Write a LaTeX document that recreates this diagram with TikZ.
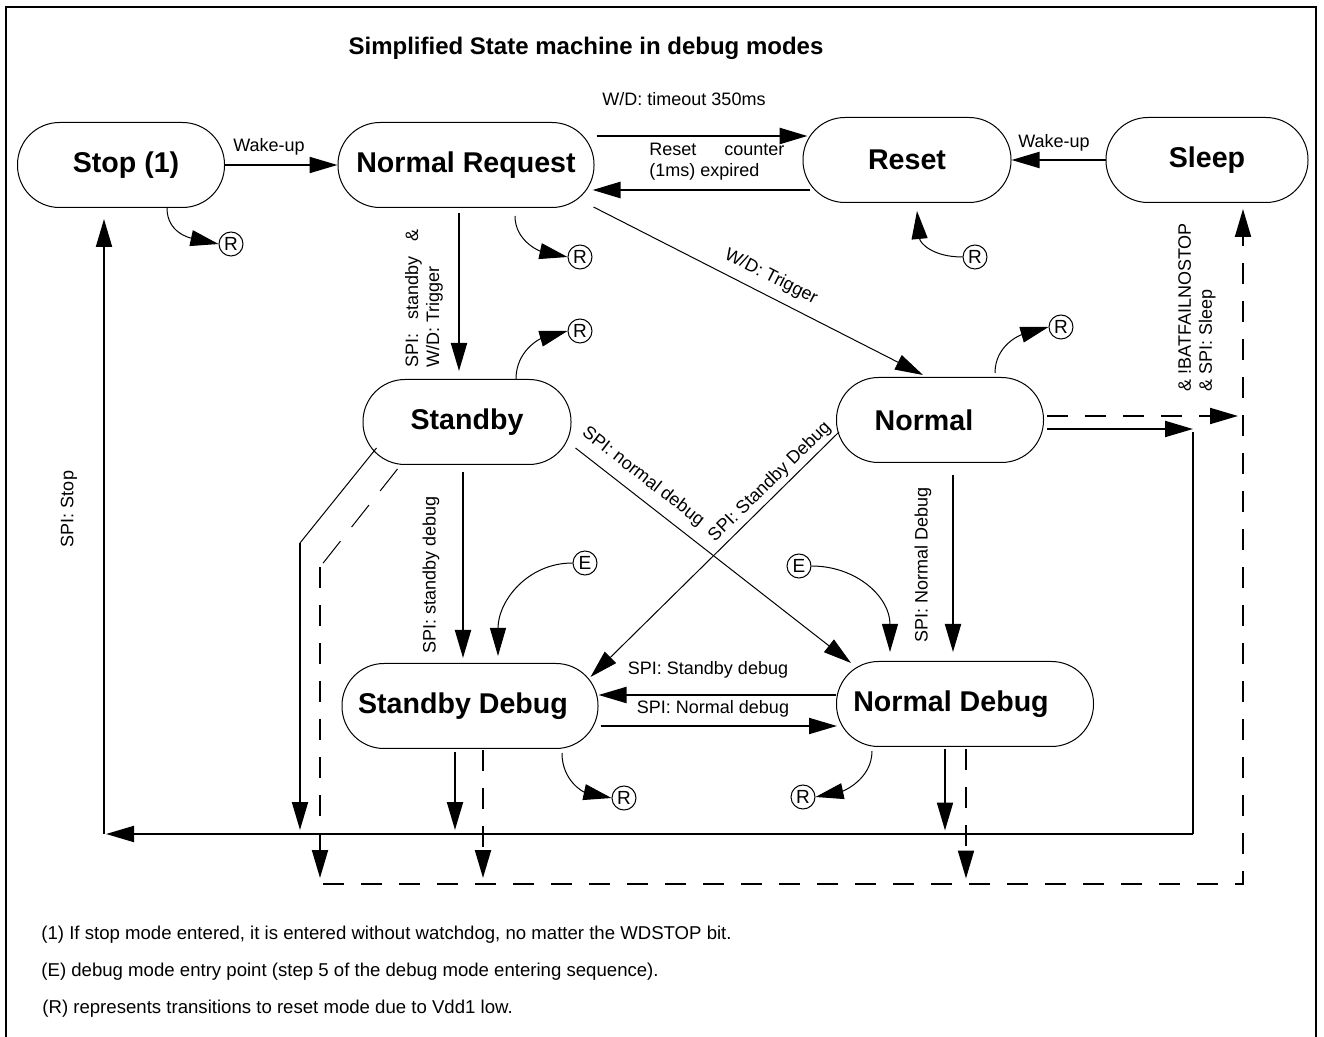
\documentclass[tikz,border=0pt]{standalone}
\usepackage{fontspec}
\setmainfont{Liberation Sans}
\usetikzlibrary{arrows.meta,calc}

\begin{document}
\begin{tikzpicture}[x=0.5pt,y=-0.5pt,>={Triangle[length=14pt,width=8pt]},
  modebox/.style={draw,line width=0.5pt,rounded corners=21pt,minimum height=42.5pt,inner sep=0pt,font=\bfseries\fontsize{14.3}{17}\selectfont},
  tag/.style={draw,circle,line width=0.5pt,minimum size=12pt,inner sep=0pt,font=\fontsize{9.5}{10}\selectfont},
  lbl/.style={inner sep=0pt,font=\fontsize{9}{10.5}\selectfont},
  note/.style={inner sep=0pt,anchor=west,font=\fontsize{9.3}{11}\selectfont},
  wire/.style={line width=1pt},
  heavy/.style={line width=1.3pt},
  link/.style={line width=0.5pt},
  dashln/.style={line width=1pt,dash pattern=on 10.5pt off 8.5pt}]
\useasboundingbox (0,0) rectangle (1324,1037);
\draw[line width=1pt] (6,1037) -- (6,7) -- (1316,7) -- (1316,1037);

\node[font=\bfseries\fontsize{12}{14}\selectfont] (title) at (586,48) {Simplified State machine in debug modes};

\node[modebox,minimum width=103.5pt] (stop) at (121,165) {\hspace*{5pt}Stop (1)};
\node[modebox,minimum width=128pt] (nreq) at (466,165) {Normal Request};
\node[modebox,minimum width=104pt] (reset) at (907,160) {Reset};
\node[modebox,minimum width=101pt] (sleep) at (1207,160) {Sleep};
\node[modebox,minimum width=104pt] (standby) at (467,422) {Standby};
\node[modebox,minimum width=103.5pt] (normal) at (940,420) {Normal\hspace*{16pt}};
\node[modebox,minimum width=128pt] (sbdebug) at (470,706) {Standby Debug\hspace*{7pt}};
\node[modebox,minimum width=128.5pt] (ndebug) at (965,704) {Normal Debug\hspace*{14pt}};

\node[tag] (rstop) at (231,244) {R};
\node[tag] (rnreq) at (580,257) {R};
\node[tag] (rreset) at (975,257) {R};
\node[tag] (rstandby) at (580,331) {R};
\node[tag] (rnormal) at (1061,327) {R};
\node[tag] (rsbdebug) at (624,798) {R};
\node[tag] (rndebug) at (803,797) {R};
\node[tag] (esbdebug) at (585,563) {E};
\node[tag] (endebug) at (799,566) {E};

\coordinate (jnormal) at (1193,429);
\coordinate (busR) at (1193,834);
\coordinate (busL) at (106,834);
\coordinate (stopup) at (104,834);
\coordinate (sbkink) at (300,543);
\coordinate (sbdkink) at (320,567);
\coordinate (dashL) at (323,884);
\coordinate (dashR) at (1243,884);

% top row
\draw[->,wire] (stop.east) -- (nreq.west);
\node[lbl] (lwake1) at (269,147) {Wake-up};
\draw[->,heavy] ($(nreq.east)+(2,-29)$) -- ($(reset.west)+(5,-24)$);
\node[lbl] (ltimeout) at (684,99) {W/D: timeout 350ms};
\draw[->,heavy] ($(reset.west)+(7,30)$) -- ($(nreq.east)+(-2,25)$);
\node[lbl,anchor=west,align=left] (lcounter) at (649,162) {\makebox[67.5pt][s]{Reset\hfill counter}\\(1ms) expired};
\draw[->,wire] (sleep.west) -- (reset.east);
\node[lbl] (lwake2) at (1054,143) {Wake-up};

% Vdd1 low
\draw[->,link] ($(stop.south)+(46,0)$) .. controls +(0,25) and +(-28,-6) .. (rstop.west);
\draw[->,link] ($(nreq.south)+(49,8)$) .. controls +(0,25) and +(-28,-6) .. (rnreq.west);
\draw[->,link] (rreset.west) .. controls +(-30,0) and +(3,32) .. ($(reset.south)+(10,8)$);
\draw[->,link] ($(standby.north)+(49,0)$) .. controls +(0,-28) and +(-28,8) .. (rstandby.west);
\draw[->,link] ($(normal.north)+(55,-4)$) .. controls +(0,-28) and +(-28,8) .. (rnormal.west);
\draw[->,link] ($(sbdebug.south)+(92,4)$) .. controls +(0,28) and +(-28,-6) .. (rsbdebug.west);
\draw[->,link] ($(ndebug.south)+(-93,4)$) .. controls +(0,28) and +(28,-6) .. (rndebug.east);

% debug entry
\draw[->,link] (esbdebug.west) .. controls +(-45,0) and +(0,-55) .. ($(sbdebug.north)+(28,-7)$);
\draw[->,link] (endebug.east) .. controls +(45,0) and +(0,-55) .. ($(ndebug.north)+(-75,-9)$);

% middle
\draw[->,wire] ($(nreq.south)+(-7,5)$) -- ($(standby.north)+(-8,-8)$);
\node[lbl,anchor=west,rotate=90,align=left] (lsbtrig) at (424,368) {\makebox[69pt][s]{SPI:\hfill standby\hfill \&}\\W/D: Trigger};
\draw[->,link] ($(nreq.east)+(-1,42)$) -- ($(normal.north)+(-17,-2)$);
\node[lbl,rotate=-27] (ltrig) at (771,277) {W/D: Trigger};
\draw[->,wire] ($(standby.south)+(-4,7)$) -- ($(sbdebug.north)+(-7,-5)$);
\node[lbl,rotate=90] (lsbd) at (431,575) {SPI: standby debug};
\draw[->,link] ($(standby.east)+(4,26)$) -- ($(ndebug.west)+(15,-41)$);
\node[lbl,rotate=-37.8] (lnd1) at (643,477) {SPI: normal debug};
\draw[->,link] ($(normal.west)+(3,12)$) -- ($(sbdebug.east)+(-8,-29)$);
\node[lbl,rotate=44.4] (lsbd2) at (770,482) {SPI: Standby Debug};
\draw[->,wire] ($(normal.south)+(13,12)$) -- ($(ndebug.north)+(-12,-9)$);
\node[lbl,rotate=90] (lnd2) at (923,565) {SPI: Normal Debug};
\draw[->,wire] ($(ndebug.west)+(0,-9)$) -- ($(sbdebug.east)+(0,-11)$);
\node[lbl] (lsbdbg) at (708,670) {SPI: Standby debug};
\draw[->,wire] ($(sbdebug.east)+(2,20)$) -- ($(ndebug.west)+(1,22)$);
\node[lbl] (lndbg) at (713,709) {SPI: Normal debug};

% stop path
\draw[->,wire] ($(normal.east)+(3,9)$) -- (jnormal);
\draw[wire] ($(jnormal)+(0,3)$) -- (busR);
\draw[->,wire] (busR) -- (busL);
\draw[->,wire] (stopup) -- ($(stop.south)+(-17,11)$);
\node[lbl,rotate=90] (lstop) at (69,509) {SPI: Stop};
\draw[link] ($(standby.south west)+(14,-17)$) -- (sbkink);
\draw[->,wire] (sbkink) -- ++(0,287);
\draw[->,wire] ($(sbdebug.south)+(-15,3)$) -- ++(0,78);
\draw[->,wire] ($(ndebug.south)+(-20,2)$) -- ++(0,81.5);

% sleep path
\draw[->,dashln] ($(normal.east)+(3,-4)$) -- ++(191,0);
\draw[link,dash pattern=on 14pt off 9pt] ($(standby.south west)+(35,4)$) -- (sbdkink);
\draw[->,dashln] (sbdkink) -- ++(0,311);
\draw[->,dashln] ($(sbdebug.south)+(13,1)$) -- ++(0,128);
\draw[->,dashln] ($(ndebug.south)+(1,2)$) -- ++(0,129.5);
\draw[->,dashln] (dashL) -- (dashR) -- ($(sleep.south)+(36,6)$);
\node[lbl,anchor=west,rotate=90,align=left] (lsleep) at (1197,392) {\& !BATFAILNOSTOP\\\& SPI: Sleep};

% notes
\node[note] (note1) at (41,935) {(1) If stop mode entered, it is entered without watchdog, no matter the WDSTOP bit.};
\node[note] (note2) at (41,972) {(E) debug mode entry point (step 5 of the debug mode entering sequence).};
\node[note] (note3) at (42,1009) {(R) represents transitions to reset mode due to Vdd1 low.};
\end{tikzpicture}
\end{document}
